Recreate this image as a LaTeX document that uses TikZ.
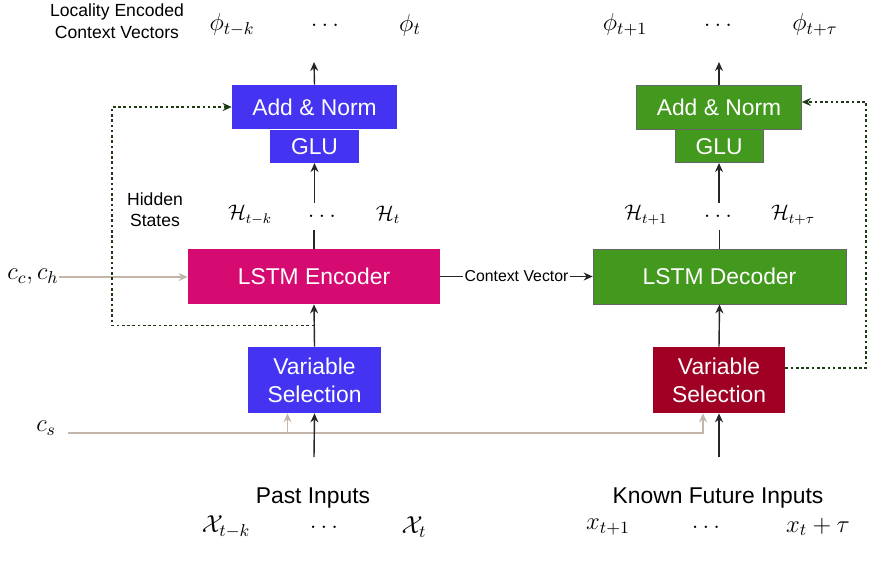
\RequirePackage{fix-cm}
\documentclass[tikz,border=0pt]{standalone}
\usepackage{amsmath}
\usepackage[no-math]{fontspec}
\setmainfont{Liberation Sans}
\usepackage{xcolor}
\usetikzlibrary{arrows.meta,positioning,calc}
\definecolor{vsblue}{HTML}{4433F0}
\definecolor{lstmpink}{HTML}{D60B72}
\definecolor{tftgreen}{HTML}{43981E}
\definecolor{vsred}{HTML}{A00023}
\definecolor{cgray}{HTML}{C4B5AB}
\definecolor{feedgreen}{HTML}{1E3A14}

\begin{document}
\begin{tikzpicture}[
    x=0.02cm, y=-0.02cm,
    box/.style={align=center, text=white, font=\fontsize{13}{15.9}\selectfont, inner sep=0pt},
    lbl/.style={align=center, font=\fontsize{10}{12.5}\selectfont},
    phi/.style={font=\fontsize{14}{16}\selectfont, inner sep=0pt},
    hid/.style={font=\fontsize{12}{14}\selectfont, inner sep=0pt},
    dotsnode/.style={font=\fontsize{14}{16}\selectfont, inner sep=0pt, minimum height=0.54cm},
    arrow/.style={-{Stealth[length=1.8mm,width=1.6mm]}, line width=0.8pt, draw=black!85},
    feed/.style={arrow, draw=feedgreen, dash pattern=on 1.5pt off 1.5pt},
    ctx/.style={arrow, draw=cgray}
]
\useasboundingbox (0,0) rectangle (878,567);

% encoder side
\node[box, fill=vsblue, minimum width=3.3cm, minimum height=0.88cm] (addL) at (314.5,107) {Add \& Norm};
\node[box, fill=vsblue, minimum width=1.78cm, minimum height=0.66cm, below=0pt of addL] (gluL) {GLU};
\node[box, fill=lstmpink, minimum width=5.04cm, minimum height=1.1cm] (enc) at (314,276.5) {LSTM Encoder};
\node[box, fill=vsblue, minimum width=2.66cm, minimum height=1.32cm] (vsL) at (314.5,380) {Variable\\Selection};

% decoder side
\node[box, fill=tftgreen, draw=black!60, minimum width=3.3cm, minimum height=0.88cm] (addR) at (719,107) {Add \& Norm};
\node[box, fill=tftgreen, draw=black!60, minimum width=1.76cm, minimum height=0.66cm, below=0pt of addR] (gluR) {GLU};
\node[box, fill=tftgreen, draw=black!60, minimum width=5.06cm, minimum height=1.1cm] (dec) at (719.5,276.5) {LSTM Decoder};
\node[box, fill=vsred, minimum width=2.64cm, minimum height=1.32cm] (vsR) at (719,380) {Variable\\Selection};

% labels
\node[lbl] (locality) at (117,21) {Locality Encoded\\Context Vectors};
\node[lbl, font=\fontsize{10}{12}\selectfont] (hidden) at (155,210) {Hidden\\States};
\node[phi] (phiTK) at (232,25) {$\phi_{t-k}$};
\node[phi] (phiDL) at (327,25) {$\dots$};
\node[phi] (phiT) at (410,25) {$\phi_t$};
\node[phi] (phiT1) at (625,25) {$\phi_{t+1}$};
\node[phi] (phiDR) at (720,25) {$\dots$};
\node[phi] (phiTT) at (815,25) {$\phi_{t+\tau}$};
\node[hid] (hTK) at (250,215) {$\mathcal{H}_{t-k}$};
\node[dotsnode] (hdotsL) at (324,216.5) {$\dots$};
\node[hid] (hT) at (388,215) {$\mathcal{H}_t$};
\node[hid] (hT1) at (646,215) {$\mathcal{H}_{t+1}$};
\node[dotsnode] (hdotsR) at (720,216.5) {$\dots$};
\node[hid] (hTT) at (793,215) {$\mathcal{H}_{t+\tau}$};
\node[phi] (cc) at (33,277) {$c_c, c_h$};
\node[phi] (cs) at (46,428) {$c_s$};
\node[box, text=black] (past) at (313,498) {Past Inputs};
\node[phi] (xTK) at (226,527) {$\mathcal{X}_{t-k}$};
\node[phi] (xDL) at (326,527) {$\dots$};
\node[phi] (xT) at (414,527) {$\mathcal{X}_t$};
\node[box, text=black] (future) at (718,498) {Known Future Inputs};
\node[phi] (xT1) at (608,527) {$x_{t+1}$};
\node[phi] (xDR) at (708,527) {$\dots$};
\node[phi] (xTT) at (818,527) {$x_t + \tau$};

\coordinate (outL) at (314,62);
\coordinate (outR) at (719,62);
\coordinate (inL) at (314,457);
\coordinate (inR) at (719,457);
\coordinate (csline) at (68,433);
\coordinate (fbL) at (112,107);
\coordinate (fbR) at (866,102);

% static context
\draw[ctx] (cc.east) -- (cc.east -| enc.west);
\draw[ctx] (csline) -| ([xshift=-0.32cm]vsR.south);
\draw[ctx] ([xshift=-0.54cm]vsL.south |- csline) -- ([xshift=-0.54cm]vsL.south);

% main flow
\draw[arrow] (inL) -- (vsL.south);
\draw[arrow] (vsL.north) -- (enc.south);
\draw[line width=0.8pt, draw=black!85] (enc.north) -- (enc.north |- hdotsL.south);
\draw[arrow] (gluL.south |- hdotsL.north) -- (gluL.south);
\draw[arrow] (addL.north) -- (outL);
\draw[arrow] (inR) -- (vsR.south);
\draw[arrow] (vsR.north) -- (dec.south);
\draw[line width=0.8pt, draw=black!85] (dec.north) -- (dec.north |- hdotsR.south);
\draw[arrow] (gluR.south |- hdotsR.north) -- (gluR.south);
\draw[arrow] (addR.north) -- (outR);
\draw[arrow, line width=0.6pt] (enc.east) -- node[fill=white, inner sep=1pt, font=\fontsize{9}{11}\selectfont] {Context Vector} (dec.west);

% skip connections
\draw[feed] ($(vsL.north)!0.5!(enc.south)$) -| (fbL) -- (addL.west);
\draw[feed] ([yshift=0.24cm]vsR.east) -| (fbR) -- (addR.east |- fbR);
\end{tikzpicture}
\end{document}
